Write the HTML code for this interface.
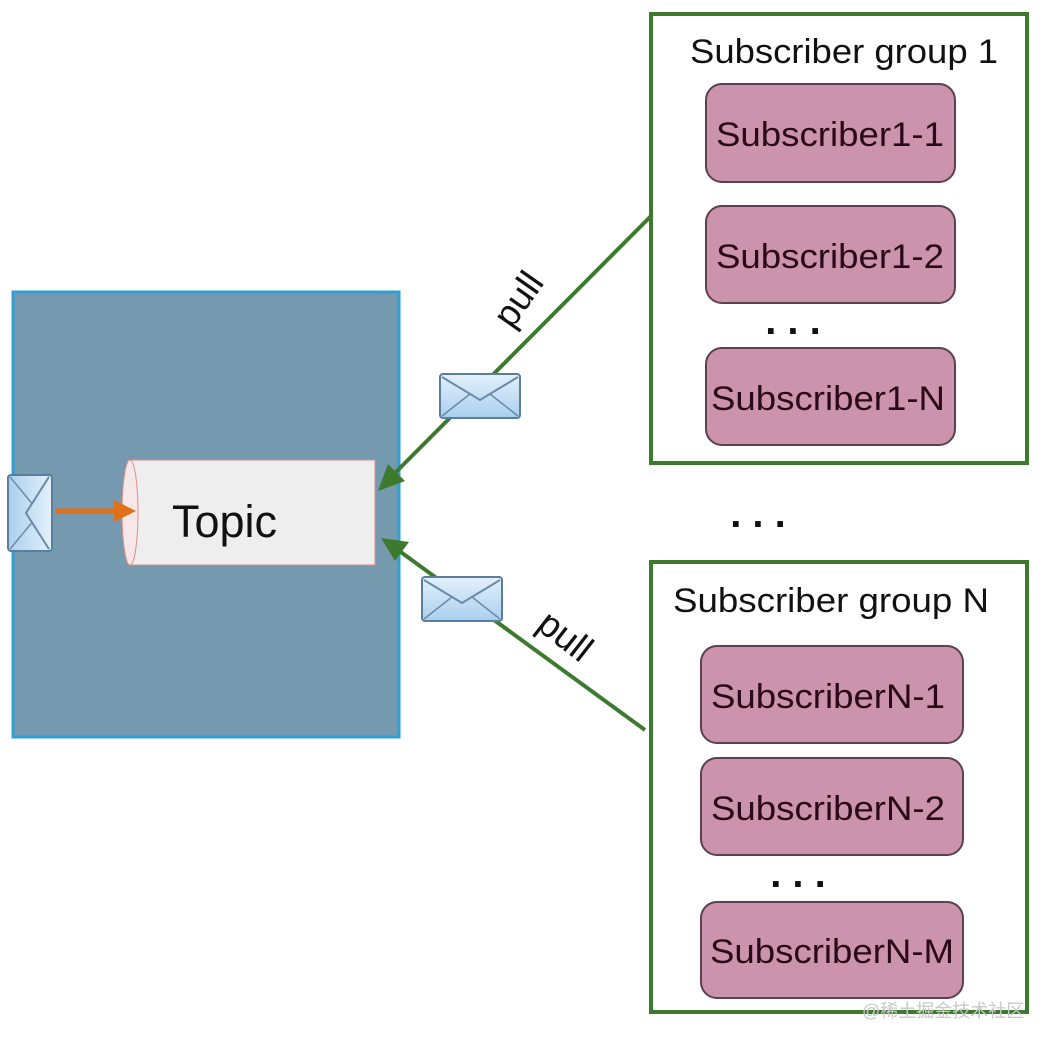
<!DOCTYPE html>
<html><head><meta charset="utf-8"><style>
html,body{margin:0;padding:0;background:#fff;}
svg{display:block;font-family:"Liberation Sans",Arial,sans-serif;}
</style></head><body>
<svg width="1050" height="1048" viewBox="0 0 1050 1048" xmlns="http://www.w3.org/2000/svg">
<defs>
<linearGradient id="env" x1="0" y1="0" x2="0" y2="1"><stop offset="0" stop-color="#e4f1fb"/><stop offset="1" stop-color="#a9cfee"/></linearGradient>
<g id="envelope">
<rect x="0" y="0" width="80" height="44" rx="3" fill="url(#env)" stroke="#5a7e9c" stroke-width="2"/>
<polyline points="2,3 40,26 78,3" fill="none" stroke="#6a8aa8" stroke-width="2"/>
<line x1="2" y1="42" x2="30" y2="20" stroke="#6a8aa8" stroke-width="1.5"/>
<line x1="78" y1="42" x2="50" y2="20" stroke="#6a8aa8" stroke-width="1.5"/>
</g>
</defs>
<rect x="13" y="292" width="386" height="445" fill="#7599ae" stroke="#2ea0d4" stroke-width="3"/>
<rect x="130" y="460" width="245" height="105" fill="#eeeeee" stroke="#e08a8a" stroke-width="1"/>
<ellipse cx="130" cy="512.5" rx="8" ry="52.5" fill="#f6e8e8" stroke="#e08a8a" stroke-width="1"/>
<text x="172" y="537" font-size="45" fill="#111">Topic</text>
<g transform="translate(52,475) rotate(90)"><use href="#envelope" transform="scale(0.95,1)"/></g>
<line x1="55" y1="511" x2="118" y2="511" stroke="#e0701a" stroke-width="5"/>
<polygon points="136,511 114,500 114,522" fill="#e0701a"/>
<line x1="655" y1="212" x2="395" y2="473" stroke="#3e7a2e" stroke-width="4"/>
<polygon points="378,491 388,464 405,481" fill="#3e7a2e"/>
<line x1="645" y1="730" x2="398" y2="550" stroke="#3e7a2e" stroke-width="4"/>
<polygon points="381,538 409,542 395,561" fill="#3e7a2e"/>
<use href="#envelope" x="440" y="374"/>
<use href="#envelope" x="422" y="577"/>
<text x="0" y="0" font-size="37" fill="#111" transform="translate(512,330) rotate(-55)">pull</text>
<text x="0" y="0" font-size="37" fill="#111" transform="translate(535,628) rotate(38)">pull</text>
<rect x="651" y="14" width="376" height="449" fill="#fff" stroke="#3e7a2e" stroke-width="4"/>
<text x="844" y="63" font-size="34" text-anchor="middle" fill="#111" textLength="308" lengthAdjust="spacingAndGlyphs">Subscriber group 1</text>
<g fill="#cc93ac" stroke="#5a4050" stroke-width="2">
<rect x="706" y="84" width="249" height="98" rx="16"/>
<rect x="706" y="206" width="249" height="97" rx="16"/>
<rect x="706" y="348" width="249" height="97" rx="16"/>
</g>
<g font-size="34" text-anchor="middle" fill="#2a0a18">
<text x="830" y="146" textLength="228" lengthAdjust="spacingAndGlyphs">Subscriber1-1</text>
<text x="830" y="268" textLength="228" lengthAdjust="spacingAndGlyphs">Subscriber1-2</text>
<text x="828" y="410" textLength="234" lengthAdjust="spacingAndGlyphs">Subscriber1-N</text>
</g>
<text x="793" y="334" font-size="40" font-weight="bold" text-anchor="middle" fill="#111">. . .</text>
<text x="758" y="527" font-size="40" font-weight="bold" text-anchor="middle" fill="#111">. . .</text>
<rect x="651" y="562" width="376" height="450" fill="#fff" stroke="#3e7a2e" stroke-width="4"/>
<text x="831" y="612" font-size="34" text-anchor="middle" fill="#111" textLength="316" lengthAdjust="spacingAndGlyphs">Subscriber group N</text>
<g fill="#cc93ac" stroke="#5a4050" stroke-width="2">
<rect x="701" y="646" width="262" height="97" rx="16"/>
<rect x="701" y="758" width="262" height="97" rx="16"/>
<rect x="701" y="902" width="262" height="96" rx="16"/>
</g>
<g font-size="34" text-anchor="middle" fill="#2a0a18">
<text x="828" y="708" textLength="234" lengthAdjust="spacingAndGlyphs">SubscriberN-1</text>
<text x="828" y="820" textLength="234" lengthAdjust="spacingAndGlyphs">SubscriberN-2</text>
<text x="832" y="963" textLength="244" lengthAdjust="spacingAndGlyphs">SubscriberN-M</text>
</g>
<text x="798" y="887" font-size="40" font-weight="bold" text-anchor="middle" fill="#111">. . .</text>
<text x="862" y="1017" font-size="18" fill="#c8c8c8" font-family="'Liberation Sans','Noto Sans CJK SC',sans-serif">@稀土掘金技术社区</text>
</svg>
</body></html>
